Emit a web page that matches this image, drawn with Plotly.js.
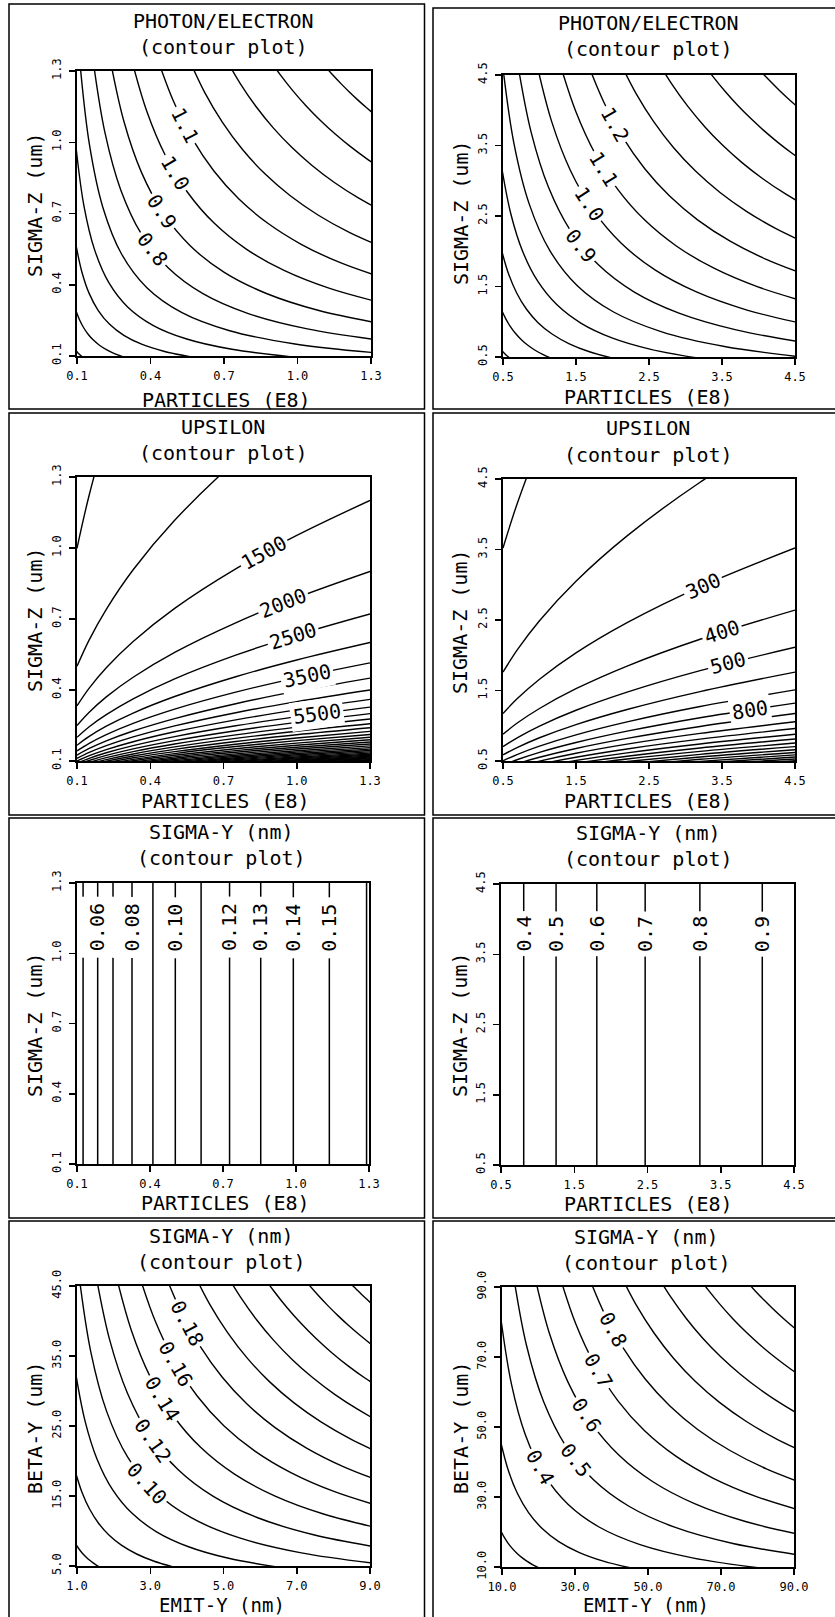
<!DOCTYPE html>
<html><head><meta charset="utf-8">
<script src="https://cdn.plot.ly/plotly-3.0.1.min.js"></script>
<style>html,body{margin:0;padding:0;background:#fff}#chart{width:835px;height:1617px}</style>
</head><body><div id="chart"></div>
<script>
// ---------------- DATA ----------------
// Tick values / labels
const tickSmall = [0.1, 0.4, 0.7, 1.0, 1.3];
const tickSmallText = ['0.1', '0.4', '0.7', '1.0', '1.3'];
const tickBig = [0.5, 1.5, 2.5, 3.5, 4.5];
const tickBigText = ['0.5', '1.5', '2.5', '3.5', '4.5'];
const tickEmit1 = [1, 3, 5, 7, 9];
const tickEmit1Text = ['1.0', '3.0', '5.0', '7.0', '9.0'];
const tickBeta1 = [5, 15, 25, 35, 45];
const tickBeta1Text = ['5.0', '15.0', '25.0', '35.0', '45.0'];
const tick90 = [10, 30, 50, 70, 90];
const tick90Text = ['10.0', '30.0', '50.0', '70.0', '90.0'];

// Panel 1: PHOTON/ELECTRON, particles 0.1-1.3 (E8) vs sigma-z 0.1-1.3 um
const pe1Levels = [0.3, 0.4, 0.5, 0.6, 0.7, 0.8, 0.9, 1.0, 1.1, 1.2, 1.3, 1.4, 1.5];
const pe1X = [
 [0.096,0.0990,0.1020,0.1051,0.1084,0.1117,0.1152,0.1187,0.1224],
 [0.096,0.1102,0.1266,0.1453,0.1669,0.1916,0.2200,0.2526,0.2900],
 [0.096,0.1199,0.1496,0.1868,0.2332,0.2912,0.3636,0.4539,0.5667],
 [0.096,0.1283,0.1716,0.2294,0.3066,0.4099,0.5479,0.7324,0.9792],
 [0.1102,0.1508,0.2063,0.2823,0.3863,0.5285,0.7232,0.9896,1.354],
 [0.1645,0.2141,0.2786,0.3626,0.4719,0.6141,0.7993,1.0402,1.3538],
 [0.2342,0.2916,0.3632,0.4522,0.5631,0.7012,0.8732,1.0873,1.354],
 [0.3212,0.3845,0.4603,0.5510,0.6596,0.7895,0.9451,1.1314,1.3543],
 [0.4276,0.4939,0.5704,0.6588,0.7609,0.8789,1.0151,1.1724,1.3541],
 [0.5551,0.6205,0.6938,0.7756,0.8670,0.9692,1.0835,1.2113,1.3542],
 [0.7058,0.7657,0.8306,0.9011,0.9776,1.0606,1.1506,1.2483,1.3541],
 [0.8815,0.9301,0.9814,1.0355,1.0926,1.1528,1.2164,1.2834,1.3542],
 [1.0841,1.1147,1.1461,1.1784,1.2116,1.2458,1.2809,1.3171,1.3541]
];
const pe1Y = [
 [0.1224,0.1187,0.1152,0.1117,0.1084,0.1051,0.1020,0.0990,0.096],
 [0.2900,0.2526,0.2200,0.1916,0.1669,0.1453,0.1266,0.1102,0.096],
 [0.5667,0.4539,0.3636,0.2912,0.2332,0.1868,0.1496,0.1199,0.096],
 [0.9792,0.7324,0.5479,0.4099,0.3066,0.2294,0.1716,0.1283,0.096],
 [1.354,0.9896,0.7232,0.5285,0.3863,0.2823,0.2063,0.1508,0.1102],
 [1.3538,1.0402,0.7993,0.6141,0.4719,0.3626,0.2786,0.2141,0.1645],
 [1.354,1.0873,0.8732,0.7012,0.5631,0.4522,0.3632,0.2916,0.2342],
 [1.3543,1.1314,0.9451,0.7895,0.6596,0.5510,0.4603,0.3845,0.3212],
 [1.3541,1.1724,1.0151,0.8789,0.7609,0.6588,0.5704,0.4939,0.4276],
 [1.3542,1.2113,1.0835,0.9692,0.8670,0.7756,0.6938,0.6205,0.5551],
 [1.3541,1.2483,1.1506,1.0606,0.9776,0.9011,0.8306,0.7657,0.7058],
 [1.3542,1.2834,1.2164,1.1528,1.0926,1.0355,0.9814,0.9301,0.8815],
 [1.3541,1.3171,1.2809,1.2458,1.2116,1.1784,1.1461,1.1147,1.0841]
];
const pe1LabText = ['0.8', '0.9', '1.0', '1.1'];
const pe1LabX = [0.406, 0.448, 0.500, 0.540];
const pe1LabY = [0.5485, 0.708, 0.870, 1.072];
const pe1LabAng = [52.6, 56.8, 59.3, 62.5];

// Panel 2: PHOTON/ELECTRON, particles 0.5-4.5 vs sigma-z 0.5-4.5
const pe2Levels = [0.4, 0.5, 0.6, 0.7, 0.8, 0.9, 1.0, 1.1, 1.2, 1.3, 1.4, 1.5, 1.6];
const pe2X = [
 [0.48,0.4933,0.5070,0.5210,0.5354,0.5503,0.5655,0.5812,0.5973],
 [0.48,0.5364,0.5993,0.6697,0.7483,0.8362,0.9344,1.0441,1.1667],
 [0.48,0.5743,0.6872,0.8222,0.9837,1.1770,1.4083,1.6850,2.0160],
 [0.48,0.6085,0.7714,0.9779,1.2396,1.5714,1.9922,2.5254,3.2013],
 [0.4893,0.6490,0.8609,1.1418,1.5145,2.0089,2.6647,3.5345,4.6879],
 [0.6967,0.8842,1.1221,1.4241,1.8072,2.2935,2.9106,3.6939,4.6878],
 [0.9557,1.1659,1.4222,1.7350,2.1166,2.5821,3.1498,3.8424,4.6875],
 [1.2721,1.4974,1.7625,2.0747,2.4419,2.8744,3.3833,3.9825,4.6876],
 [1.6515,1.8815,2.1437,2.4422,2.7823,3.1699,3.6114,4.1145,4.6876],
 [2.0997,2.3214,2.5666,2.8376,3.1373,3.4686,3.8349,4.2400,4.6876],
 [2.6225,2.8200,3.0324,3.2606,3.5061,3.7702,4.0542,4.3592,4.6875],
 [3.2256,3.3798,3.5413,3.7106,3.8884,4.0743,4.2690,4.4731,4.6875],
 [3.9147,4.0040,4.0951,4.1883,4.2837,4.3814,4.4812,4.5833,4.6876]
];
const pe2Y = [
 [0.5973,0.5812,0.5655,0.5503,0.5354,0.5210,0.5070,0.4933,0.48],
 [1.1667,1.0441,0.9344,0.8362,0.7483,0.6697,0.5993,0.5364,0.48],
 [2.0160,1.6850,1.4083,1.1770,0.9837,0.8222,0.6872,0.5743,0.48],
 [3.2013,2.5254,1.9922,1.5714,1.2396,0.9779,0.7714,0.6085,0.48],
 [4.6879,3.5345,2.6647,2.0089,1.5145,1.1418,0.8609,0.6490,0.4893],
 [4.6878,3.6939,2.9106,2.2935,1.8072,1.4241,1.1221,0.8842,0.6967],
 [4.6875,3.8424,3.1498,2.5821,2.1166,1.7350,1.4222,1.1659,0.9557],
 [4.6876,3.9825,3.3833,2.8744,2.4419,2.0747,1.7625,1.4974,1.2721],
 [4.6876,4.1145,3.6114,3.1699,2.7823,2.4422,2.1437,1.8815,1.6515],
 [4.6876,4.2400,3.8349,3.4686,3.1373,2.8376,2.5666,2.3214,2.0997],
 [4.6875,4.3592,4.0542,3.7702,3.5061,3.2606,3.0324,2.8200,2.6225],
 [4.6875,4.4731,4.2690,4.0743,3.8884,3.7106,3.5413,3.3798,3.2256],
 [4.6876,4.5833,4.4812,4.3814,4.2837,4.1883,4.0951,4.0040,3.9147]
];
const pe2LabText = ['0.9', '1.0', '1.1', '1.2'];
const pe2LabX = [1.57, 1.68, 1.88, 2.04];
const pe2LabY = [2.08, 2.667, 3.172, 3.795];
const pe2LabAng = [52.0, 56.9, 58.5, 60.9];

// Panel 3: UPSILON, particles 0.1-1.3 vs sigma-z 0.1-1.3
const ups1Levels = [500,1000,1500,2000,2500,3000,3500,4000,4500,5000,5500,6000,6500,7000,7500,8000,8500,9000,
 9500,10000,10500,11000,11500,12000,12500,13000,13500,14000,14500,15000,15500,16000,16500,17000,17500,18000];
const ups1N = [0.1, 0.15, 0.22, 0.33, 0.5, 0.75, 1.0, 1.3];
const ups1SigZ = [
 [0.999,1.224,1.482,1.815,2.234,2.737,3.16,3.603],
 [0.5,0.612,0.741,0.908,1.117,1.368,1.58,1.802],
 [0.333,0.408,0.494,0.605,0.745,0.912,1.053,1.201],
 [0.25,0.306,0.371,0.454,0.559,0.684,0.79,0.901],
 [0.2,0.245,0.296,0.363,0.447,0.547,0.632,0.721],
 [0.1665,0.204,0.247,0.3026,0.3724,0.4561,0.5267,0.6005],
 [0.1427,0.1748,0.2117,0.2593,0.3192,0.3909,0.4514,0.5147],
 [0.1249,0.153,0.1853,0.2269,0.2793,0.3421,0.395,0.4504],
 [0.111,0.136,0.1647,0.2017,0.2483,0.3041,0.3511,0.4003],
 [0.0999,0.1224,0.1482,0.1815,0.2234,0.2737,0.316,0.3603],
 [0.0908,0.1113,0.1347,0.165,0.2031,0.2488,0.2873,0.3276],
 [0.0833,0.102,0.1235,0.1513,0.1862,0.228,0.2633,0.3003],
 [0.0769,0.0941,0.114,0.1397,0.1719,0.2105,0.2431,0.2772],
 [0.0714,0.0874,0.1059,0.1297,0.1596,0.1955,0.2257,0.2574],
 [0.0666,0.0816,0.0988,0.121,0.149,0.1824,0.2107,0.2402],
 [0.0625,0.0765,0.0926,0.1135,0.1397,0.171,0.1975,0.2252],
 [0.0588,0.072,0.0872,0.1068,0.1314,0.161,0.1859,0.2119],
 [0.0555,0.068,0.0823,0.1009,0.1241,0.152,0.1756,0.2002],
 [0.0526,0.0644,0.078,0.0955,0.1176,0.144,0.1663,0.1896],
 [0.05,0.0612,0.0741,0.0908,0.1117,0.1368,0.158,0.1802],
 [0.0476,0.0583,0.0706,0.0864,0.1064,0.1303,0.1505,0.1716],
 [0.0454,0.0556,0.0674,0.0825,0.1016,0.1244,0.1436,0.1638],
 [0.0434,0.0532,0.0644,0.0789,0.0971,0.119,0.1374,0.1567],
 [0.0416,0.051,0.0618,0.0756,0.0931,0.114,0.1317,0.1501],
 [0.04,0.049,0.0593,0.0726,0.0894,0.1095,0.1264,0.1441],
 [0.0384,0.0471,0.057,0.0698,0.0859,0.1053,0.1215,0.1386],
 [0.037,0.0453,0.0549,0.0672,0.0828,0.1014,0.117,0.1334],
 [0.0357,0.0437,0.0529,0.0648,0.0798,0.0977,0.1129,0.1287],
 [0.0345,0.0422,0.0511,0.0626,0.0771,0.0944,0.109,0.1242],
 [0.0333,0.0408,0.0494,0.0605,0.0745,0.0912,0.1053,0.1201],
 [0.0322,0.0395,0.0478,0.0586,0.0721,0.0883,0.1019,0.1162],
 [0.0312,0.0382,0.0463,0.0567,0.0698,0.0855,0.0988,0.1126],
 [0.0303,0.0371,0.0449,0.055,0.0677,0.0829,0.0958,0.1092],
 [0.0294,0.036,0.0436,0.0534,0.0657,0.0805,0.0929,0.106],
 [0.0285,0.035,0.0423,0.0519,0.0638,0.0782,0.0903,0.1029],
 [0.0278,0.034,0.0412,0.0504,0.0621,0.076,0.0878,0.1001]
];
const ups1LabText = ['1500', '2000', '2500', '3500', '5500'];
const ups1LabX = [0.864, 0.945, 0.986, 1.041, 1.082];
const ups1LabY = [0.979, 0.768, 0.6275, 0.4606, 0.2988];
const ups1LabAng = [-28.9, -21.6, -17.3, -12.2, -7.7];

// Panel 4: UPSILON, particles 0.5-4.5 vs sigma-z 0.5-4.5
const ups2Levels = [100,200,300,400,500,600,700,800,900,1000,1100,1200,1300,1400,1500,1600,1700,1800,1900,2000,2100];
const ups2N = [0.5, 0.7, 1.0, 1.5, 2.2, 3.2, 4.5];
const ups2SigZ = [
 [3.521,4.167,4.98,6.099,7.386,8.909,10.564],
 [1.761,2.083,2.49,3.05,3.693,4.454,5.282],
 [1.174,1.389,1.66,2.033,2.462,2.97,3.521],
 [0.88,1.042,1.245,1.525,1.847,2.227,2.641],
 [0.704,0.833,0.996,1.22,1.477,1.782,2.113],
 [0.587,0.694,0.83,1.017,1.231,1.485,1.761],
 [0.503,0.595,0.711,0.871,1.055,1.273,1.509],
 [0.44,0.521,0.623,0.762,0.923,1.114,1.321],
 [0.391,0.463,0.553,0.678,0.821,0.99,1.174],
 [0.352,0.417,0.498,0.61,0.739,0.891,1.056],
 [0.32,0.379,0.453,0.554,0.671,0.81,0.96],
 [0.293,0.347,0.415,0.508,0.616,0.742,0.88],
 [0.271,0.321,0.383,0.469,0.568,0.685,0.813],
 [0.252,0.298,0.356,0.436,0.528,0.636,0.755],
 [0.235,0.278,0.332,0.407,0.492,0.594,0.704],
 [0.22,0.26,0.311,0.381,0.462,0.557,0.66],
 [0.207,0.245,0.293,0.359,0.434,0.524,0.621],
 [0.196,0.231,0.277,0.339,0.41,0.495,0.587],
 [0.185,0.219,0.262,0.321,0.389,0.469,0.556],
 [0.176,0.208,0.249,0.305,0.369,0.445,0.528],
 [0.168,0.198,0.237,0.29,0.352,0.424,0.503]
];
const ups2LabText = ['300', '400', '500', '800'];
const ups2LabX = [3.243, 3.494, 3.586, 3.883];
const ups2LabY = [2.989, 2.327, 1.886, 1.2267];
const ups2LabAng = [-24.1, -17.9, -14.3, -8.7];

// Panel 5: SIGMA-Y (nm), particles 0.1-1.3 vs sigma-z 0.1-1.3 (vertical contours)
const sy1Levels = [0.05, 0.06, 0.07, 0.08, 0.09, 0.10, 0.11, 0.12, 0.13, 0.14, 0.15, 0.16];
const sy1N = [0.125, 0.185, 0.248, 0.326, 0.412, 0.504, 0.610, 0.727, 0.855, 0.989, 1.137, 1.290];
const sy1LabText = ['0.06', '0.08', '0.10', '0.12', '0.13', '0.14', '0.15'];
const sy1LabX = [0.185, 0.326, 0.504, 0.727, 0.855, 0.989, 1.137];
const sy1LabY = 1.11;

// Panel 6: SIGMA-Y (nm), particles 0.5-4.5 vs sigma-z 0.5-4.5
const sy2Levels = [0.4, 0.5, 0.6, 0.7, 0.8, 0.9];
const sy2N = [0.81, 1.252, 1.808, 2.468, 3.215, 4.067];
const sy2LabText = ['0.4', '0.5', '0.6', '0.7', '0.8', '0.9'];
const sy2LabY = 3.79;

// Panel 7: SIGMA-Y (nm), emit-y 1-9 nm vs beta-y 5-45 um
const sy3Levels = [0.04, 0.06, 0.08, 0.10, 0.12, 0.14, 0.16, 0.18, 0.20, 0.22, 0.24, 0.26, 0.28];
const sy3Emit = [
 [0.96,1.0260,1.0964,1.1718,1.2522,1.3382,1.4301,1.5284,1.6333],
 [0.96,1.1354,1.3428,1.5882,1.8783,2.2215,2.6274,3.1075,3.675],
 [0.96,1.2200,1.5506,1.9706,2.5044,3.1829,4.0451,5.1408,6.5333],
 [1.0453,1.3751,1.8090,2.3797,3.1305,4.1182,5.4175,7.1269,9.3753],
 [1.5053,1.8920,2.3780,2.9889,3.7566,4.7217,5.9347,7.4592,9.3750],
 [2.0489,2.4780,2.9967,3.6240,4.3827,5.3004,6.4102,7.7525,9.3749],
 [2.6761,3.1300,3.6609,4.2818,5.0088,5.8583,6.8521,8.0143,9.3750],
 [3.3869,3.8465,4.3688,4.9615,5.6349,6.3997,7.2684,8.2545,9.3750],
 [4.1813,4.6254,5.1167,5.6602,6.2610,6.9260,7.6616,8.4752,9.3752],
 [5.0594,5.4652,5.9033,6.3766,6.8871,7.4395,8.0358,8.6804,9.3749],
 [6.0211,6.3637,6.7261,7.1090,7.5132,7.9406,8.3929,8.8709,9.3750],
 [7.0665,7.3209,7.5838,7.8565,8.1393,8.4323,8.7359,9.0494,9.3752],
 [8.1954,8.3339,8.4757,8.6193,8.7654,8.9140,9.0650,9.2180,9.3749]
];
const sy3Beta = [
 [8.167,7.642,7.151,6.691,6.261,5.859,5.482,5.130,4.80],
 [18.375,15.538,13.137,11.108,9.392,7.941,6.714,5.677,4.80],
 [32.667,25.704,20.226,15.915,12.522,9.853,7.753,6.100,4.80],
 [46.877,35.635,27.088,20.591,15.653,11.899,9.045,6.876,5.227],
 [46.875,37.296,29.674,23.609,18.783,14.945,11.890,9.460,7.527],
 [46.875,38.763,32.051,26.502,21.914,18.120,14.984,12.390,10.245],
 [46.875,40.072,34.261,29.292,25.044,21.409,18.305,15.650,13.381],
 [46.875,41.273,36.342,31.999,28.175,24.808,21.844,19.233,16.935],
 [46.876,42.376,38.308,34.630,31.305,28.301,25.584,23.127,20.907],
 [46.875,43.402,40.179,37.198,34.436,31.883,29.517,27.326,25.297],
 [46.875,44.355,41.965,39.703,37.566,35.545,33.631,31.819,30.106],
 [46.876,45.247,43.680,42.162,40.697,39.283,37.919,36.605,35.333],
 [46.875,46.090,45.325,44.582,43.827,43.097,42.379,41.670,40.977]
];
const sy3LabText = ['0.10', '0.12', '0.14', '0.16', '0.18'];
const sy3LabX = [2.92, 3.08, 3.33, 3.70, 4.00];
const sy3LabY = [16.78, 22.91, 28.84, 33.90, 39.69];
const sy3LabAng = [47.7, 54.9, 58.9, 60.3, 62.2];

// Panel 8: SIGMA-Y (nm), emit-y 10-90 nm vs beta-y 10-90 um
const sy4Levels = [0.2, 0.3, 0.4, 0.5, 0.6, 0.7, 0.8, 0.9, 1.0, 1.1, 1.2];
const sy4Emit = [
 [9.6,10.549,11.593,12.740,14.0,15.385,16.907,18.579,20.417],
 [9.6,11.676,14.200,17.270,21.0,25.540,31.061,37.777,45.938],
 [9.6,12.545,16.395,21.425,28.0,36.590,47.818,62.490,81.667],
 [13.067,16.717,21.386,27.360,35.0,44.776,57.281,73.280,93.75],
 [18.816,22.999,28.112,34.362,42.0,51.337,62.748,76.697,93.75],
 [25.611,30.121,35.425,41.665,49.0,57.629,67.778,79.712,93.75],
 [33.451,38.050,43.283,49.232,56.0,63.700,72.459,82.421,93.75],
 [42.336,46.760,51.646,57.040,63.0,69.584,76.855,84.884,93.75],
 [52.267,56.229,60.486,65.066,70.0,75.306,81.011,87.151,93.75],
 [63.243,66.432,69.782,73.300,77.0,80.881,84.961,89.244,93.75],
 [75.264,77.356,79.510,81.721,84.0,86.335,88.737,91.205,93.75]
];
const sy4Beta = [
 [20.417,18.579,16.907,15.385,14.0,12.740,11.593,10.549,9.6],
 [45.938,37.777,31.061,25.540,21.0,17.270,14.200,11.676,9.6],
 [81.667,62.490,47.818,36.590,28.0,21.425,16.395,12.545,9.6],
 [93.75,73.280,57.281,44.776,35.0,27.360,21.386,16.717,13.067],
 [93.75,76.697,62.748,51.337,42.0,34.362,28.112,22.999,18.816],
 [93.75,79.712,67.778,57.629,49.0,41.665,35.425,30.121,25.611],
 [93.75,82.421,72.459,63.700,56.0,49.232,43.283,38.050,33.451],
 [93.75,84.884,76.855,69.584,63.0,57.040,51.646,46.760,42.336],
 [93.75,87.151,81.011,75.306,70.0,65.066,60.486,56.229,52.267],
 [93.75,89.244,84.961,80.881,77.0,73.300,69.782,66.432,63.243],
 [93.75,91.205,88.737,86.335,84.0,81.721,79.510,77.356,75.264]
];
const sy4LabText = ['0.4', '0.5', '0.6', '0.7', '0.8'];
const sy4LabX = [20.4, 30.2, 33.1, 36.4, 40.3];
const sy4LabY = [38.5, 40.6, 53.3, 66.0, 77.9];
const sy4LabAng = [61.0, 52.2, 57.1, 60.1, 61.6];

// ---------------- DRAWING ----------------
const W = 835, H = 1617;
const FONT = 'DejaVu Sans Mono';
const traces = [], annotations = [], shapes = [];
const layout = {
  width: W, height: H, margin: {l: 0, r: 0, t: 0, b: 0},
  paper_bgcolor: '#fff', plot_bgcolor: '#fff', showlegend: false,
  font: {family: FONT, color: '#000'}, annotations, shapes
};
const px = v => v / W, py = v => 1 - v / H;
const axName = (k, n) => n === 1 ? k : k + n;

function setupPanel(n, pxr, pyr, xr, yr, xt, xtt, yt, ytt) {
  const common = {
    showgrid: false, zeroline: false, showline: true, linecolor: '#000', linewidth: 2,
    mirror: true, ticks: 'outside', ticklen: 6, tickwidth: 1.5, tickcolor: '#000',
    tickfont: {family: FONT, size: 12, color: '#000'}, fixedrange: true, ticklabelstandoff: 2
  };
  layout[axName('xaxis', n)] = Object.assign({}, common, {
    domain: [px(pxr[0]), px(pxr[1])], range: xr, anchor: axName('y', n),
    tickmode: 'array', tickvals: xt, ticktext: xtt
  });
  layout[axName('yaxis', n)] = Object.assign({}, common, {
    domain: [py(pyr[1]), py(pyr[0])], range: yr, anchor: axName('x', n),
    tickmode: 'array', tickvals: yt, ticktext: ytt, tickangle: -90, ticklabelstandoff: 3
  });
}
function addCurves(n, xs, ys, shared) {
  for (let i = 0; i < ys.length; i++) {
    traces.push({
      type: 'scatter', mode: 'lines', x: shared ? xs : xs[i], y: ys[i],
      xaxis: axName('x', n), yaxis: axName('y', n),
      line: {color: '#000', width: 1.4, shape: 'spline', smoothing: 1},
      hoverinfo: 'skip', showlegend: false
    });
  }
}
function addVertical(n, xs, yr) {
  xs.forEach(v => traces.push({
    type: 'scatter', mode: 'lines', x: [v, v], y: yr,
    xaxis: axName('x', n), yaxis: axName('y', n),
    line: {color: '#000', width: 1.5}, hoverinfo: 'skip', showlegend: false
  }));
}
function addLabels(n, texts, xs, ys, angs, pad) {
  texts.forEach((t, i) => annotations.push({
    xref: axName('x', n), yref: axName('y', n),
    x: Array.isArray(xs) ? xs[i] : xs, y: Array.isArray(ys) ? ys[i] : ys,
    text: t, textangle: Array.isArray(angs) ? angs[i] : angs, showarrow: false,
    xanchor: 'center', yanchor: 'middle', bgcolor: '#fff', borderpad: pad,
    font: {family: FONT, size: 20, color: '#000'}
  }));
}
function paperText(text, x, y, angle, size) {
  annotations.push({xref: 'paper', yref: 'paper', x: px(x), y: py(y), text, textangle: angle || 0,
    showarrow: false, xanchor: 'center', yanchor: 'middle',
    font: {family: FONT, size: size || 20, color: '#000'}});
}

// Panel geometry (pixels) and axes
setupPanel(1, [77, 371], [71, 356], [0.1, 1.3], [0.1, 1.3], tickSmall, tickSmallText, tickSmall, tickSmallText);
setupPanel(2, [503, 795], [75, 357], [0.5, 4.5], [0.5, 4.5], tickBig, tickBigText, tickBig, tickBigText);
setupPanel(3, [77, 370], [477, 761], [0.1, 1.3], [0.1, 1.3], tickSmall, tickSmallText, tickSmall, tickSmallText);
setupPanel(4, [503, 795], [479, 761], [0.5, 4.5], [0.5, 4.5], tickBig, tickBigText, tickBig, tickBigText);
setupPanel(5, [77, 369], [883, 1164], [0.1, 1.3], [0.1, 1.3], tickSmall, tickSmallText, tickSmall, tickSmallText);
setupPanel(6, [501, 794], [884, 1165], [0.5, 4.5], [0.5, 4.5], tickBig, tickBigText, tickBig, tickBigText);
setupPanel(7, [77, 370], [1286, 1566], [1, 9], [5, 45], tickEmit1, tickEmit1Text, tickBeta1, tickBeta1Text);
setupPanel(8, [502, 794], [1287, 1567], [10, 90], [10, 90], tick90, tick90Text, tick90, tick90Text);

// Contour lines
addCurves(1, pe1X, pe1Y, false);
addCurves(2, pe2X, pe2Y, false);
addCurves(3, ups1N, ups1SigZ, true);
addCurves(4, ups2N, ups2SigZ, true);
addVertical(5, sy1N, [0.1, 1.3]);
addVertical(6, sy2N, [0.5, 4.5]);
addCurves(7, sy3Emit, sy3Beta, false);
addCurves(8, sy4Emit, sy4Beta, false);

// Contour labels
addLabels(1, pe1LabText, pe1LabX, pe1LabY, pe1LabAng, 2);
addLabels(2, pe2LabText, pe2LabX, pe2LabY, pe2LabAng, 2);
addLabels(3, ups1LabText, ups1LabX, ups1LabY, ups1LabAng, 2);
addLabels(4, ups2LabText, ups2LabX, ups2LabY, ups2LabAng, 2);
addLabels(5, sy1LabText, sy1LabX, sy1LabY, -90, 6);
addLabels(6, sy2LabText, sy2N, sy2LabY, -90, 4);
addLabels(7, sy3LabText, sy3LabX, sy3LabY, sy3LabAng, 2);
addLabels(8, sy4LabText, sy4LabX, sy4LabY, sy4LabAng, 2);

// Titles and axis titles
const titles = [
  ['PHOTON/ELECTRON', 223, 21, 47, 'PARTICLES (E8)', 226, 400, 'SIGMA-Z (um)', 35, 205, 20],
  ['PHOTON/ELECTRON', 648, 23, 49, 'PARTICLES (E8)', 648, 397, 'SIGMA-Z (um)', 461, 213, 20],
  ['UPSILON', 223, 427, 453, 'PARTICLES (E8)', 225, 801, 'SIGMA-Z (um)', 35, 620, 20],
  ['UPSILON', 648, 428, 455, 'PARTICLES (E8)', 648, 801, 'SIGMA-Z (um)', 460, 622, 20],
  ['SIGMA-Y (nm)', 222, 832, 858, 'PARTICLES (E8)', 225, 1203, 'SIGMA-Z (um)', 35, 1025, 20],
  ['SIGMA-Y (nm)', 648, 833, 859, 'PARTICLES (E8)', 648, 1204, 'SIGMA-Z (um)', 460, 1025, 20],
  ['SIGMA-Y (nm)', 222, 1236, 1262, 'EMIT-Y (nm)', 222, 1605, 'BETA-Y (um)', 35, 1428, 19],
  ['SIGMA-Y (nm)', 646, 1237, 1263, 'EMIT-Y (nm)', 646, 1605, 'BETA-Y (um)', 461, 1428, 19]
];
titles.forEach(t => {
  paperText(t[0], t[1], t[2]);
  paperText('(contour plot)', t[1], t[3]);
  paperText(t[4], t[5], t[6], 0, t[10]);
  paperText(t[7], t[8], t[9], -90);
});

// Panel frames
const frameRows = [[4, 409], [413, 815], [818, 1218], [1221, 1630]];
frameRows.forEach((r, i) => {
  shapes.push({type: 'rect', xref: 'paper', yref: 'paper', x0: px(9), x1: px(424.5), y0: py(r[1]), y1: py(r[0]),
    line: {color: '#000', width: 1.5}});
  shapes.push({type: 'rect', xref: 'paper', yref: 'paper', x0: px(433), x1: px(845), y0: py(r[1]), y1: py(i === 0 ? 8 : r[0]),
    line: {color: '#000', width: 1.5}});
});

Plotly.newPlot('chart', traces, layout, {staticPlot: true, displayModeBar: false});
</script></body></html>
